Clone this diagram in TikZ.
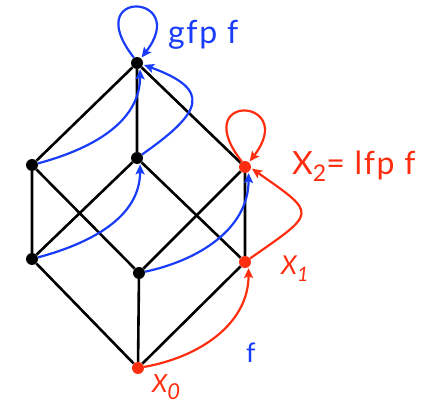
\documentclass[tikz,border=0pt]{standalone}
\usepackage{fontspec}
\setmainfont{Lato}
\usepackage{tikz}
\usetikzlibrary{positioning,calc,arrows.meta}
\definecolor{lblue}{RGB}{25,60,250}
\definecolor{lred}{RGB}{255,45,15}

\begin{document}
\begin{tikzpicture}[x=1pt, y=1pt,
  dot/.style={circle, fill, inner sep=0pt, minimum size=12pt},
  latt/.style={line width=2.6pt},
  farrow/.style={line width=2.2pt, -{Stealth[length=10pt, width=9pt, inset=2pt]}, shorten >=1pt},
  lbl/.style={inner sep=0pt, anchor=base west},
  big/.style={font=\fontsize{32}{34}\selectfont\addfontfeature{LetterSpace=5}}]
\useasboundingbox (0,0) rectangle (437,405);
% lattice points
\node[dot] (top) at (137,342) {};
\node[dot] (lu) at (32,240) {};
\node[dot] (cu) at (137,247) {};
\node[dot, lred] (x2) at (245,238) {};
\node[dot] (ll) at (32,146) {};
\node[dot] (cl) at (139,132) {};
\node[dot, lred] (x1) at (245,143) {};
\node[dot, lred] (x0) at (138,37) {};
% order
\draw[latt] (top) -- (lu) (top) -- (cu) (top) -- (x2);
\draw[latt] (lu) -- (ll) (lu) -- (cl) (cu) -- (ll) (cu) -- (x1);
\draw[latt] (x2) -- (cl) (x2) -- (x1);
\draw[latt] (ll) -- (x0) (cl) -- (x0) (x1) -- (x0);
% f
\draw[farrow, lblue] (lu) to[out=15, in=-90] (top.-60);
\draw[farrow, lblue] (cu) to[out=35, in=-20, looseness=2.1] (top.-15);
\draw[farrow, lblue] (ll) to[out=15, in=-90] (cu.-60);
\draw[farrow, lblue] (cl) to[out=12, in=-90] (x2.-55);
\draw[farrow, lblue] (top.120) .. controls +(-55,70) and +(50,65) .. (top.50);
\draw[farrow, lred] (x0) to[out=10, in=-90] (x1.-55);
\draw[farrow, lred] (x1) to[out=35, in=-35, looseness=2.3] (x2.-10);
\draw[farrow, lred] (x2.120) .. controls +(-55,70) and +(50,65) .. (x2.50);
% labels
\node[lbl, big, lblue] (gfp) at (168,361) {gfp f};
\node[lbl, big, lred] (lfp) at (292,230) {X\raisebox{-7pt}{\fontsize{23}{23}\selectfont 2}= lfp f};
\node[lbl, lred, font=\fontsize{26}{28}\selectfont\itshape] (lx1) at (281,130) {X\raisebox{-7pt}{\fontsize{20}{20}\selectfont 1}};
\node[lbl, lred, font=\fontsize{25}{27}\selectfont\itshape] (lx0) at (152,13) {X\raisebox{-7pt}{\fontsize{22}{22}\selectfont 0}};
\node[lbl, lblue, font=\fontsize{27}{29}\selectfont] (lf) at (246,43) {f};
\end{tikzpicture}
\end{document}
